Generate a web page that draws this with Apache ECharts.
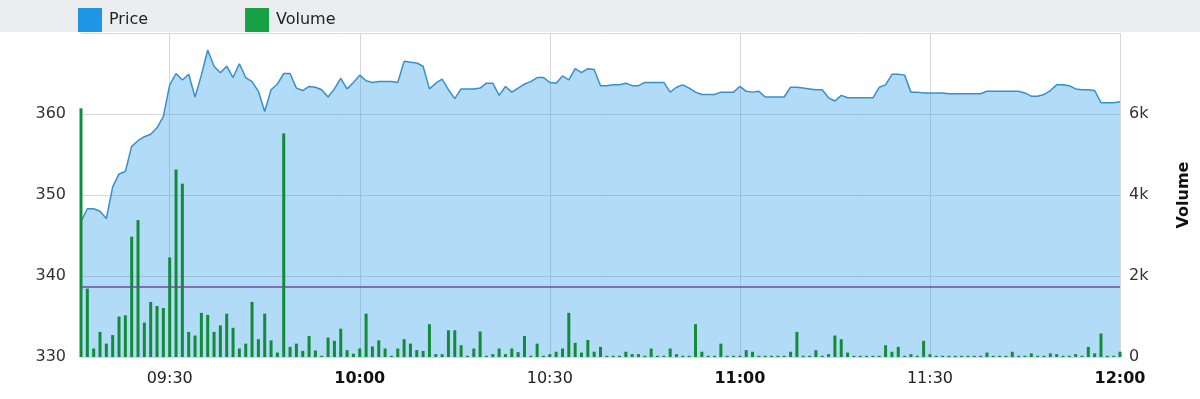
<!DOCTYPE html>
<html>
<head>
<meta charset="utf-8">
<script src="https://cdn.jsdelivr.net/npm/echarts@6/dist/echarts.min.js"></script>
<style>
html,body{margin:0;padding:0;background:#fff;}
#chart{width:1200px;height:399px;}
</style>
</head>
<body>
<div id="chart"></div>
<script>
// Time axis: one point per minute from 09:16 to 12:00
const startMinute = 9 * 60 + 16;
const pointCount = 165;
const times = [];
for (let i = 0; i < pointCount; i++) {
  const m = startMinute + i;
  times.push(String(Math.floor(m / 60)).padStart(2, '0') + ':' + String(m % 60).padStart(2, '0'));
}

const price = [
  346.7, 348.3, 348.3, 348.0, 347.1, 351.0, 352.6, 352.9, 356.0, 356.7,
  357.2, 357.5, 358.3, 359.7, 363.6, 365.0, 364.2, 364.9, 362.1, 364.8,
  367.9, 365.9, 365.1, 365.9, 364.5, 366.2, 364.5, 364.0, 362.8, 360.3,
  363.0, 363.7, 365.0, 365.0, 363.2, 362.9, 363.4, 363.3, 363.0, 362.1,
  363.1, 364.4, 363.1, 363.9, 364.8, 364.1, 363.9, 364.0, 364.0, 364.0,
  363.9, 366.5, 366.4, 366.3, 365.9, 363.1, 363.8, 364.3, 363.0, 361.9,
  363.1, 363.1, 363.1, 363.2, 363.8, 363.8, 362.3, 363.4, 362.7, 363.2,
  363.7, 364.0, 364.5, 364.5, 363.9, 363.8, 364.7, 364.2, 365.6, 365.1,
  365.6, 365.5, 363.5, 363.5, 363.6, 363.6, 363.8, 363.5, 363.5, 363.9,
  363.9, 363.9, 363.9, 362.7, 363.3, 363.6, 363.2, 362.7, 362.4, 362.4,
  362.4, 362.7, 362.7, 362.7, 363.4, 362.8, 362.7, 362.8, 362.1, 362.1,
  362.1, 362.1, 363.3, 363.3, 363.2, 363.1, 363.0, 363.0, 362.0, 361.6,
  362.3, 362.0, 362.0, 362.0, 362.0, 362.0, 363.3, 363.6, 364.9, 364.9,
  364.8, 362.7, 362.7, 362.6, 362.6, 362.6, 362.6, 362.5, 362.5, 362.5,
  362.5, 362.5, 362.5, 362.8, 362.8, 362.8, 362.8, 362.8, 362.8, 362.6,
  362.2, 362.2, 362.4, 362.9, 363.6, 363.6, 363.5, 363.1, 363.0, 363.0,
  362.9, 361.4, 361.4, 361.4, 361.5
];

const volume = [
  6140, 1690, 210, 620, 330, 540, 1000, 1030, 2970, 3380,
  850, 1360, 1260, 1210, 2460, 4630, 4280, 620, 530, 1090,
  1040, 620, 780, 1070, 720, 210, 330, 1360, 440, 1070,
  410, 110, 5520, 250, 330, 150, 520, 160, 30, 480,
  400, 700, 170, 80, 210, 1070, 260, 410, 210, 30,
  210, 440, 330, 170, 150, 810, 70, 70, 660, 660,
  290, 30, 210, 630, 30, 70, 210, 70, 210, 120,
  520, 30, 330, 30, 70, 130, 210, 1090, 350, 110,
  420, 130, 250, 30, 30, 30, 130, 70, 70, 30,
  210, 30, 30, 210, 70, 30, 30, 810, 130, 30,
  30, 330, 30, 30, 30, 170, 130, 30, 30, 30,
  30, 30, 130, 620, 30, 30, 170, 30, 70, 530,
  440, 110, 30, 30, 30, 30, 30, 290, 130, 250,
  30, 70, 30, 400, 70, 30, 30, 30, 30, 30,
  30, 30, 30, 110, 30, 30, 30, 130, 30, 30,
  90, 30, 30, 90, 70, 30, 30, 70, 30, 250,
  90, 580, 30, 30, 130
];

const referencePrice = 338.7;
const priceTicks = { min: 330, max: 370, interval: 10 };
const volumeTicks = { min: 0, max: 8000, interval: 2000 };

const FONT = 'DejaVu Sans';
const isMajor = (i, v) => v.endsWith(':00') || v.endsWith(':30');

const chart = echarts.init(document.getElementById('chart'), null, { renderer: 'canvas' });
chart.setOption({
  animation: false,
  backgroundColor: '#ffffff',
  textStyle: { fontFamily: FONT },
  graphic: [{
    type: 'rect', left: 0, top: 0, z: -10, silent: true,
    shape: { width: 1200, height: 32 },
    style: { fill: '#ecedef' }
  }],
  legend: {
    left: 73, top: 3, itemWidth: 24, itemHeight: 24, itemGap: 97,
    icon: 'rect', selectedMode: false,
    textStyle: { fontFamily: FONT, fontSize: 16, color: '#222', padding: [0, 0, 0, 2] },
    data: [
      { name: 'Price', itemStyle: { color: '#1e96e6' } },
      { name: 'Volume', itemStyle: { color: '#18a045' } }
    ]
  },
  grid: { left: 81, right: 78, top: 33, bottom: 42, containLabel: false },
  xAxis: {
    type: 'category', data: times, boundaryGap: false,
    axisLine: { show: false },
    axisTick: { show: false },
    splitLine: { show: true, interval: isMajor, lineStyle: { color: '#d8d8d8', width: 1 } },
    axisLabel: {
      interval: isMajor, margin: 14, fontFamily: FONT, fontSize: 16, color: '#222',
      formatter: v => v.endsWith(':00') ? '{b|' + v + '}' : v,
      rich: { b: { fontWeight: 'bold', fontFamily: FONT, fontSize: 16, color: '#111' } }
    }
  },
  yAxis: [{
    type: 'value', min: priceTicks.min, max: priceTicks.max, interval: priceTicks.interval,
    axisLine: { show: false }, axisTick: { show: false },
    splitLine: { show: true, lineStyle: { color: '#d8d8d8', width: 1 } },
    axisLabel: { showMaxLabel: false, margin: 15, fontFamily: FONT, fontSize: 16, color: '#333' }
  }, {
    type: 'value', min: volumeTicks.min, max: volumeTicks.max, interval: volumeTicks.interval,
    position: 'right',
    name: 'Volume', nameLocation: 'middle', nameRotate: 90, nameGap: 56,
    nameTextStyle: { fontFamily: FONT, fontSize: 16, fontWeight: 'bold', color: '#111' },
    axisLine: { show: false }, axisTick: { show: false }, splitLine: { show: false },
    axisLabel: {
      showMaxLabel: false, margin: 9, fontFamily: FONT, fontSize: 16, color: '#333',
      formatter: v => v === 0 ? '0' : (v / 1000) + 'k'
    }
  }],
  series: [{
    name: 'Price', type: 'line', data: price, yAxisIndex: 0,
    symbol: 'none', smooth: false,
    lineStyle: { color: '#3790cc', width: 1.5 },
    itemStyle: { color: '#1e96e6' },
    areaStyle: { color: 'rgba(30,150,232,0.34)', opacity: 1 },
    markLine: {
      silent: true, symbol: ['none', 'none'], z: 10,
      label: { show: false },
      lineStyle: { color: '#6a4f96', width: 1.5, type: 'solid' },
      data: [{ yAxis: referencePrice }]
    },
    z: 2
  }, {
    name: 'Volume', type: 'bar', data: volume, yAxisIndex: 1,
    barWidth: 3,
    itemStyle: { color: '#128c3a' },
    z: 3
  }]
});
</script>
</body>
</html>
